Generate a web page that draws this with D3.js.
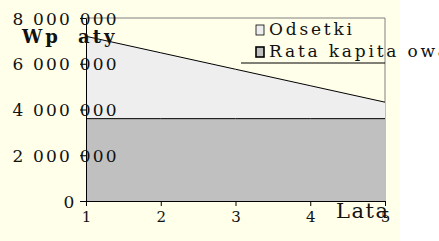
<!DOCTYPE html>
<html>
<head>
<meta charset="utf-8">
<script src="https://cdn.jsdelivr.net/npm/d3@7"></script>
<style>
  body { margin: 0; background: #ffffff; overflow: hidden; }
  svg { display: block; }
</style>
</head>
<body>
<div id="chart"></div>
<script>
var years = [1, 2, 3, 4, 5];
var odsetki = [3600000, 2880000, 2160000, 1440000, 720000];
var rataKapitalowa = [3600000, 3600000, 3600000, 3600000, 3600000];
var yTicks = [0, 2000000, 4000000, 6000000, 8000000];
var yTickLabels = ["0", "2 000 000", "4 000 000", "6 000 000", "8 000 000"];
var seriesNames = ["Odsetki", "Rata kapita owa"];
var seriesColors = ["#eeeeee", "#c0c0c0"];

var width = 439, height = 241;
var font = "'DejaVu Serif', 'Liberation Serif', serif";

var svg = d3
  .select("#chart")
  .append("svg")
  .attr("width", width)
  .attr("height", height);

// pale yellow chart area, white strip at the right
svg.append("rect")
  .attr("width", 400)
  .attr("height", height)
  .style("fill", "#ffffea");

var x = d3.scaleLinear().domain([1, 5]).range([86, 385]);
var y = d3.scaleLinear().domain([0, 8000000]).range([201, 18]);

var rows = years.map(function (d, i) {
  return { year: d, rata: rataKapitalowa[i], odsetki: odsetki[i] };
});
var stacked = d3.stack().keys(["rata", "odsetki"])(rows);

var area = d3.area()
  .x(function (d) { return x(d.data.year); })
  .y0(function (d) { return y(d[0]); })
  .y1(function (d) { return y(d[1]); });
var topLine = d3.line()
  .x(function (d) { return x(d.data.year); })
  .y(function (d) { return y(d[1]); });

// plot frame (top and right)
svg.append("path")
  .attr("d", "M" + x(1) + "," + y(8000000) + "H" + x(5) + "V" + y(0))
  .style("fill", "none")
  .style("stroke", "#808080")
  .style("stroke-width", 1);

svg.selectAll(".area")
  .data(stacked)
  .enter()
  .append("path")
  .attr("class", "area")
  .attr("d", area)
  .style("fill", function (d, i) { return seriesColors[1 - i]; });

svg.selectAll(".topline")
  .data(stacked)
  .enter()
  .append("path")
  .attr("class", "topline")
  .attr("d", topLine)
  .style("fill", "none")
  .style("stroke", "#000")
  .style("stroke-width", 1);

// x axis
var xAxis = svg.append("g")
  .attr("transform", "translate(0," + y(0) + ")")
  .call(d3.axisBottom(x).tickValues(years).tickSize(5).tickSizeOuter(0).tickFormat(d3.format("d")));
xAxis.select(".domain").style("stroke", "#000");
xAxis.selectAll("line").style("stroke", "#000");
xAxis.selectAll("text")
  .attr("y", 21)
  .attr("dy", 0)
  .style("font-family", font)
  .style("font-size", "15px")
  .style("fill", "#111");

// y axis
var yAxis = svg.append("g")
  .attr("transform", "translate(" + x(1) + ",0)")
  .call(d3.axisLeft(y).tickValues(yTicks).tickSize(6).tickSizeOuter(0)
    .tickFormat(function (d, i) { return yTickLabels[i]; }));
yAxis.select(".domain").style("stroke", "#000");
yAxis.selectAll("line").style("stroke", "#000");
yAxis.selectAll("text")
  .attr("text-anchor", "start")
  .attr("x", function (d, i) { return -16 - 6.4 * yTickLabels[i].length; })
  .attr("dy", "0.36em")
  .style("font-family", font)
  .style("font-size", "17px")
  .style("letter-spacing", "2.2px")
  .style("fill", "#111");

// axis titles
svg.append("text")
  .attr("x", 22)
  .attr("y", 43)
  .style("font-family", font)
  .style("font-size", "18px")
  .style("font-weight", "bold")
  .style("letter-spacing", "3px")
  .style("word-spacing", "8px")
  .style("fill", "#111")
  .text("Wp aty");

svg.append("text")
  .attr("x", 336)
  .attr("y", 218)
  .style("font-family", font)
  .style("font-size", "21px")
  .style("letter-spacing", "1.5px")
  .style("fill", "#111")
  .text("Lata");

// legend
svg.append("line")
  .attr("x1", 241).attr("x2", 385)
  .attr("y1", 63).attr("y2", 63)
  .style("stroke", "#000");

var legend = svg.selectAll(".legend")
  .data(seriesNames)
  .enter()
  .append("g")
  .attr("class", "legend")
  .attr("transform", function (d, i) { return "translate(256," + (25 + i * 22) + ")"; });

legend.append("rect")
  .attr("width", 8)
  .attr("height", 10)
  .style("fill", function (d, i) { return seriesColors[i]; })
  .style("stroke", "#000")
  .style("stroke-width", function (d, i) { return i === 0 ? 0.8 : 1.6; });

legend.append("text")
  .attr("x", 13)
  .attr("y", 10)
  .style("font-family", font)
  .style("font-size", "17px")
  .style("letter-spacing", "2.8px")
  .style("fill", "#111")
  .text(function (d) { return d; });
</script>
</body>
</html>
